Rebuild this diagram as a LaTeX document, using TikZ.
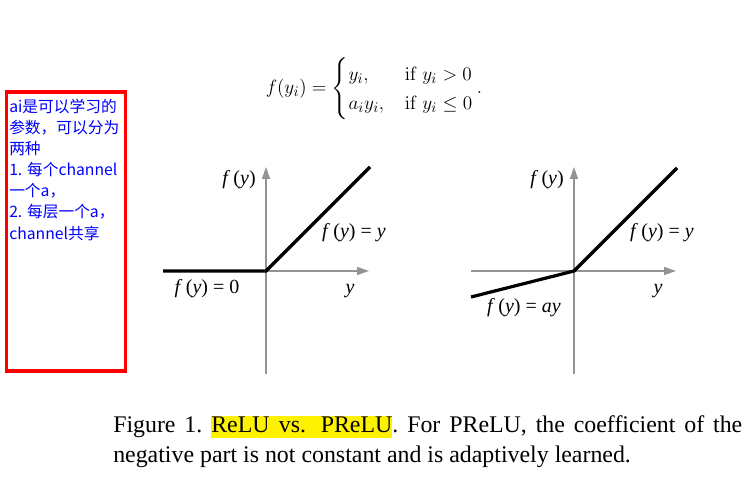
\documentclass[tikz,border=0pt]{standalone}
\usepackage{amsmath,amssymb}
\usepackage[no-math]{fontspec}
\setmainfont{Liberation Serif}
\newfontfamily\cjk{Noto Sans CJK SC}
\usepackage{tikz}
\usetikzlibrary{arrows.meta,positioning}

\newcommand{\fy}{\textit{f}\,(\textit{y})}

\begin{document}
\begin{tikzpicture}[
  x=0.75pt,y=-0.75pt,
  axis/.style={draw=gray!85,line width=1.1pt,-{Triangle[length=9pt,width=6pt]}},
  curve/.style={line width=2.4pt,line join=miter},
  lbl/.style={font=\fontsize{15}{17}\selectfont,inner sep=0pt},
  note/.style={font=\cjk\fontsize{11.8}{15.8}\selectfont,text=blue,align=left,inner sep=0pt},
  captext/.style={font=\fontsize{17.9}{22}\selectfont\frenchspacing,inner sep=0pt}
]
\useasboundingbox (0,0) rectangle (753,488);

% note box
\draw[red,line width=2.3pt] (6.5,92) rectangle (125.5,371);
\node[note,anchor=north west] (note) at (9,99) {ai是可以学习的\\参数，可以分为\\两种\\1. 每个channel\\一个a，\\2. 每层一个a，\\channel共享};

% formula
\node[font=\fontsize{15.5}{18.6}\selectfont,inner sep=0pt] (eq) at (374,89)
  {$\displaystyle f(y_i)=\begin{cases} y_i, & \mathrm{if}\ y_i>0\\ a_iy_i, & \mathrm{if}\ y_i\le 0\end{cases}.$};

% ReLU
\coordinate (o1) at (266,271);
\coordinate (xl1) at (163,271);
\coordinate (xr1) at (369,271);
\coordinate (yb1) at (266,374);
\coordinate (yt1) at (266,167);
\coordinate (n1) at (163,271);
\coordinate (p1) at (370,167);
\draw[axis] (xl1) -- (xr1);
\draw[axis] (yb1) -- (yt1);
\draw[curve] (n1) -- (o1) -- (p1);
\node[lbl] (fy1) at (239,180) {\fy};
\node[lbl] (pos1) at (354,233) {\fy\ = \textit{y}};
\node[lbl] (neg1) at (207,289) {\fy\ = 0};
\node[lbl] (ax1) at (350,291) {\textit{y}};

% PReLU
\coordinate (o2) at (574,271);
\coordinate (xl2) at (471,271);
\coordinate (xr2) at (676,271);
\coordinate (yb2) at (574,374);
\coordinate (yt2) at (574,167);
\coordinate (n2) at (471,297);
\coordinate (p2) at (677,168);
\draw[axis] (xl2) -- (xr2);
\draw[axis] (yb2) -- (yt2);
\draw[curve] (n2) -- (o2) -- (p2);
\node[lbl] (fy2) at (547,180) {\fy};
\node[lbl] (pos2) at (662,233) {\fy\ = \textit{y}};
\node[lbl] (neg2) at (524,308) {\fy\ = \textit{ay}};
\node[lbl] (ax2) at (658,291) {\textit{y}};

% caption
\node[captext,anchor=base west] (cap1) at (113,432)
  {\hbox to 471.75pt{Figure 1. {\fboxsep=0pt\colorbox{yellow}{\rule[-4.5pt]{0pt}{16pt}ReLU\hspace{7pt}vs.\hspace{11pt}PReLU}}. For PReLU, the coefficient of the}};
\node[captext,anchor=base west] (cap2) at (113,462)
  {negative part is not constant and is adaptively learned.};
\end{tikzpicture}
\end{document}
